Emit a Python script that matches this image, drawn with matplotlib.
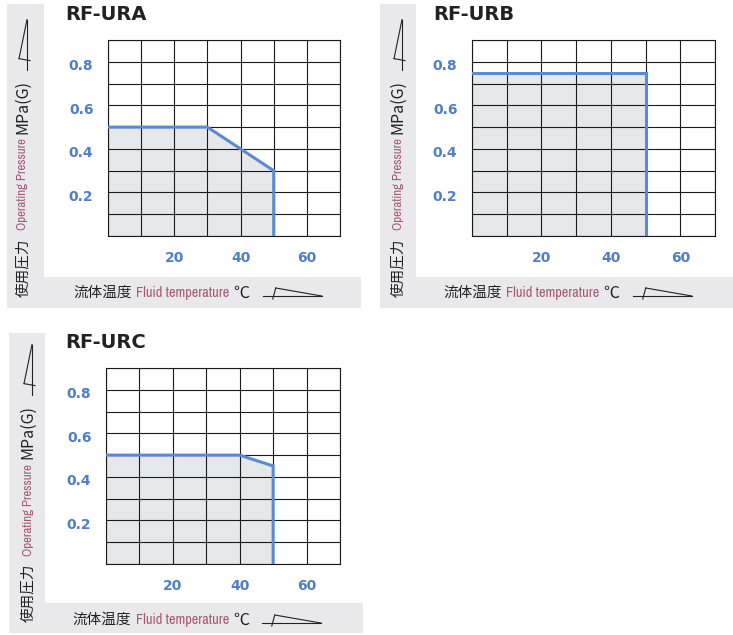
import matplotlib
matplotlib.use('Agg')
import matplotlib.pyplot as plt
import matplotlib.font_manager as fm
from matplotlib.patches import Rectangle
from matplotlib.lines import Line2D
import matplotlib.transforms as mtransforms

W, H = 733, 635

# data
titles = ['RF-URA', 'RF-URB', 'RF-URC']
temps_a = [0, 30, 50, 50]
press_a = [0.5, 0.5, 0.3, 0.0]
temps_b = [0, 50, 50]
press_b = [0.75, 0.75, 0.0]
temps_c = [0, 40, 50, 50]
press_c = [0.5, 0.5, 0.45, 0.0]
x_ticks = [20, 40, 60]
y_ticks = [0.2, 0.4, 0.6, 0.8]
x_grid = list(range(0, 71, 10))
y_grid = [i / 10 for i in range(10)]

blue = '#5a8bd2'
tick_blue = '#4f80c6'
mauve = '#a5586f'
bg_gray = '#e9e9eb'
fill_gray = '#e6e7e9'
ink = '#222222'

cjk = ['Noto Sans CJK JP', 'DejaVu Sans']


def pick_narrow():
    # the reference uses a condensed face for the English words
    for f in fm.fontManager.ttflist:
        if 'Narrow' in f.name or 'Condensed' in f.name:
            return f.name
    return 'Liberation Sans'


narrow = pick_narrow()

# panel layout in pixels (x0, y0, x1, y1), y downward
panels = [
    dict(grid=(108, 40, 340, 236), strip=(7, 4, 44, 308), bottom=(7, 277, 361, 308),
         title=(65, 15), xl_y=293, xl_x=73, yl_x=23, yl_y=297, data=(temps_a, press_a)),
    dict(grid=(472, 40, 715, 236), strip=(380, 4, 416, 308), bottom=(380, 277, 733, 308),
         title=(433, 15), xl_y=293, xl_x=443, yl_x=398, yl_y=297, data=(temps_b, press_b)),
    dict(grid=(106, 368, 340, 564), strip=(9, 333, 45, 633), bottom=(9, 603, 363, 633),
         title=(65, 343), xl_y=620, xl_x=72, yl_x=28, yl_y=622, data=(temps_c, press_c)),
]

fig = plt.figure(figsize=(W / 100, H / 100), dpi=100)
px = mtransforms.Affine2D().scale(1 / W, -1 / H).translate(0, 1) + fig.transFigure
renderer = fig.canvas.get_renderer()


def rect(x0, y0, x1, y1):
    fig.patches.append(Rectangle((x0, y1), x1 - x0, y0 - y1, transform=px,
                                 facecolor=bg_gray, edgecolor='none', zorder=0))


def line(pts):
    xs, ys = zip(*pts)
    fig.lines.append(Line2D(xs, ys, transform=px, color=ink, lw=0.8))


def arrow(x0, y0, vertical=False):
    # small wedge-shaped arrow that follows the axis titles
    if not vertical:
        n = 59
        line([(x0, y0), (x0 + n, y0)])
        line([(x0 + 13, y0 - 8), (x0 + n, y0)])
        line([(x0 + 10, y0 + 3), (x0 + 13, y0 - 8)])
    else:
        n = 50
        line([(x0, y0), (x0, y0 - n)])
        line([(x0 - 8, y0 - 11), (x0, y0 - n)])
        line([(x0 + 3, y0 - 9), (x0 - 8, y0 - 11)])


def put(x, y, s, vertical=False, fit=None, **kw):
    # place a text piece, return the pixel position where it ends
    rot = 90 if vertical else 0
    t = fig.text(x, y, s, transform=px, rotation=rot, rotation_mode='anchor',
                 ha='left', va='center', **kw)
    bb = t.get_window_extent(renderer)
    if fit is not None:
        size = t.get_fontsize() * fit / (bb.height if vertical else bb.width)
        t.set_fontsize(size)
        bb = t.get_window_extent(renderer)
    return H - bb.y1 if vertical else bb.x1


for title, p in zip(titles, panels):
    rect(*p['strip'])
    rect(*p['bottom'])

    gx0, gy0, gx1, gy1 = p['grid']
    ax = fig.add_axes([gx0 / W, 1 - gy1 / H, (gx1 - gx0) / W, (gy1 - gy0) / H])
    ax.set_facecolor('white')
    temps, press = p['data']
    ax.fill_between(temps, press, 0, color=fill_gray, lw=0, zorder=1)
    ax.plot(temps, press, color=blue, lw=2.2, zorder=3, solid_joinstyle='miter')
    ax.set_xlim(0, 70)
    ax.set_ylim(0, 0.9)
    ax.set_xticks(x_ticks)
    ax.set_yticks(y_ticks)
    ax.set_xticks(x_grid, minor=True)
    ax.set_yticks(y_grid, minor=True)
    ax.grid(True, which='both', color='#1a1a1a', lw=0.8, zorder=2)
    ax.set_axisbelow(False)
    ax.tick_params(which='both', length=0)
    ax.tick_params(axis='x', pad=11, labelcolor=tick_blue, labelsize=10)
    ax.tick_params(axis='y', pad=10.5, labelcolor=tick_blue, labelsize=10)
    for lab in ax.get_xticklabels() + ax.get_yticklabels():
        lab.set_fontweight('bold')
    off = mtransforms.ScaledTranslation(0, -3 / 100, fig.dpi_scale_trans)
    for lab in ax.get_yticklabels():
        lab.set_transform(lab.get_transform() + off)
    for s in ax.spines.values():
        s.set_color('#1a1a1a')
        s.set_linewidth(0.8)

    tx, ty = p['title']
    fig.text(tx, ty, title, transform=px, fontsize=14, fontweight='bold',
             color=ink, ha='left', va='center')

    # x axis title
    y = p['xl_y']
    x = put(p['xl_x'], y, '流体温度', family=cjk, fontsize=10.5, color=ink)
    x = put(x + 5, y, 'Fluid temperature', family=narrow, fontsize=10,
            color=mauve, fit=93)
    x = put(x + 4, y, '℃', family=cjk, fontsize=11.5, color=ink)
    arrow(x + 13, y + 3)

    # y axis title (rotated, read bottom to top)
    xx = p['yl_x']
    yy = put(xx, p['yl_y'], '使用圧力', vertical=True, family=cjk, fontsize=10.5, color=ink)
    yy = put(xx, yy - 8, 'Operating Pressure', vertical=True, family=narrow,
             fontsize=10, color=mauve, fit=93)
    yy = put(xx, yy - 5, 'MPa(G)', vertical=True, family=cjk, fontsize=11.5, color=ink)
    arrow(xx + 4, yy - 10, vertical=True)

fig.savefig('out.png', dpi=100, facecolor='white')
